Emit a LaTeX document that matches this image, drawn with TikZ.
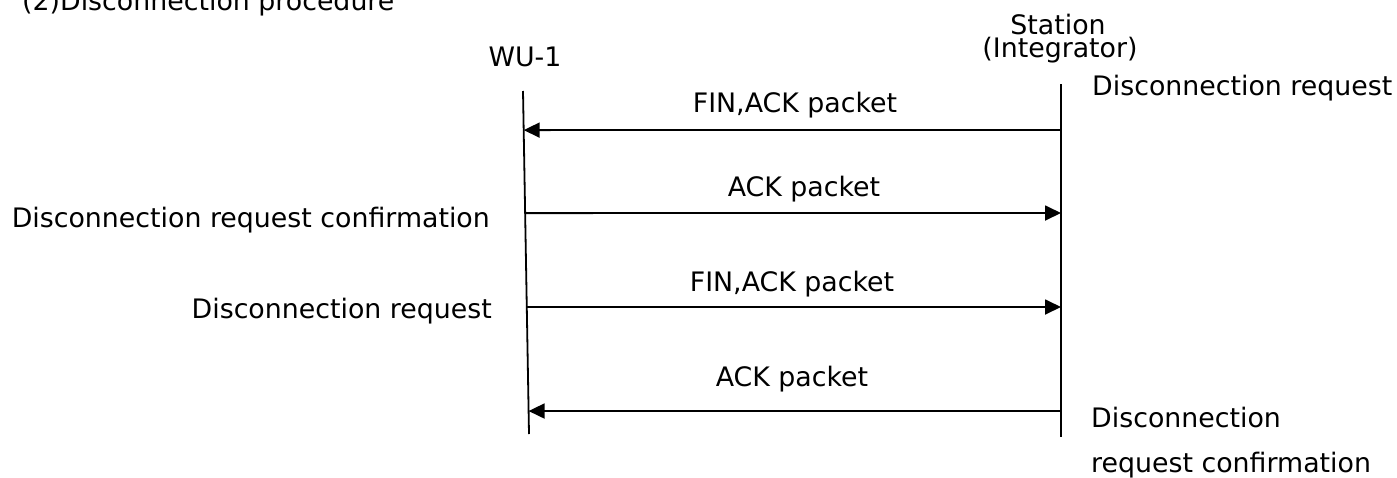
\documentclass[tikz,border=0pt]{standalone}
\usepackage{fontspec}
\setmainfont{DejaVu Sans}
\usetikzlibrary{arrows.meta,calc}

\tikzset{
	lifeline/.style={line width=1.8pt},
	msg/.style={line width=1.8pt, -{Triangle[length=16pt,width=15pt]}},
	lbl/.style={inner sep=0pt, anchor=base, font=\fontsize{26.8}{30}\selectfont},
}

\begin{document}
\begin{tikzpicture}[x=1pt,y=-1pt]
	\useasboundingbox (0,0) rectangle (1397,477);
	% title, cut at the top
	\node[lbl, anchor=base west] (title) at (22,10) {(2)Disconnection procedure};
	% lifelines
	\node[lbl] (wu) at (525,66) {WU-1};
	\node[lbl] (st) at (1058,34) {Station};
	\node[lbl] (integ) at (1060,57) {(Integrator)};
	\coordinate (wtop) at (523,91);
	\coordinate (wbot) at (529,434);
	\coordinate (stop) at (1061,84);
	\coordinate (sbot) at (1061,437);
	\draw[lifeline] (wtop) -- (wbot);
	\draw[lifeline] (stop) -- (sbot);
	% ends of the messages
	\coordinate (w1) at ($(wtop)!0.114!(wbot)$);
	\coordinate (w2) at ($(wtop)!0.356!(wbot)$);
	\coordinate (w3) at ($(wtop)!0.630!(wbot)$);
	\coordinate (w4) at ($(wtop)!0.933!(wbot)$);
	\coordinate (s1) at (1061,130);
	\coordinate (s2) at (1061,213);
	\coordinate (s3) at (1061,307);
	\coordinate (s4) at (1061,411);
	\draw[msg] (s1) -- (w1);
	\draw[msg] (w2) -- (s2);
	\draw[msg] (w3) -- (s3);
	\draw[msg] (s4) -- (w4);
	\node[lbl] (m1) at (795,112) {FIN,ACK packet};
	\node[lbl] (m2) at (804,196) {ACK packet};
	\node[lbl] (m3) at (792,291) {FIN,ACK packet};
	\node[lbl] (m4) at (792,386) {ACK packet};
	% states
	\node[lbl, anchor=base west] (sreq) at (1092,95) {Disconnection request};
	\node[lbl, anchor=base east] (wconf) at (490,227) {Disconnection request confirmation};
	\node[lbl, anchor=base east] (wreq) at (492,318) {Disconnection request};
	\node[lbl, anchor=base west] (sconf) at (1091,427) {Disconnection};
	\node[lbl, anchor=base west] (sconf2) at (1091,472) {request confirmation};
\end{tikzpicture}
\end{document}
